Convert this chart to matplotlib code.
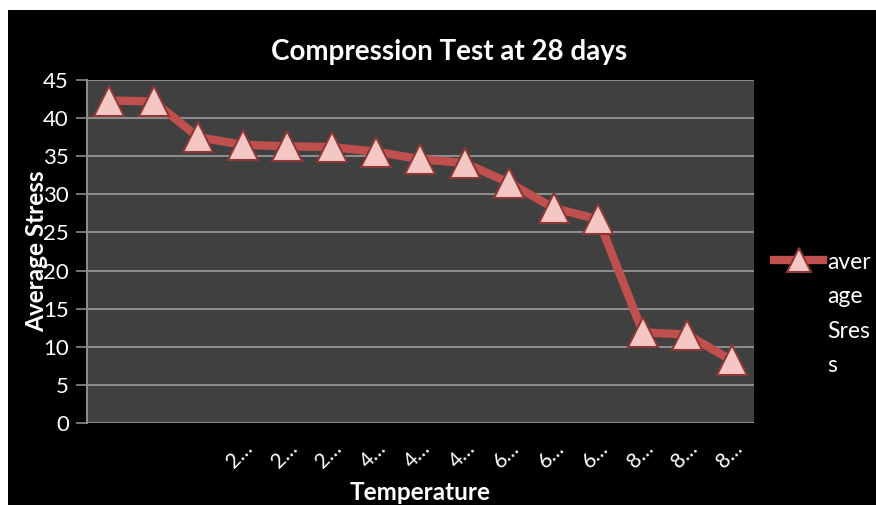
import matplotlib.pyplot as plt
from matplotlib.patches import Rectangle

# data
kategorieen = list(range(1, 16))
tick_labels = ["", "", "", "2…", "2…", "2…", "4…", "4…", "4…",
               "6…", "6…", "6…", "8…", "8…", "8…"]
gemiddelde_spanning = [42.3, 42.2, 37.5, 36.5, 36.3, 36.2, 35.6, 34.6, 34.1,
                       31.5, 28.2, 26.7, 11.9, 11.6, 8.2]
y_ticks = [0, 5, 10, 15, 20, 25, 30, 35, 40, 45]

plt.rcParams['font.family'] = ['Lato', 'DejaVu Sans']

fig = plt.figure(figsize=(8.76, 5.05), dpi=100)
fig.patch.set_facecolor('white')
# black chart area with a thin white strip at top and left
fig.patches.append(Rectangle((8 / 876, 0), 1, 495 / 505, transform=fig.transFigure,
                             facecolor='black', edgecolor='none', zorder=-5))

ax = fig.add_axes([87 / 876, 82 / 505, 667 / 876, 343 / 505])
ax.set_facecolor('#404040')

ax.plot(kategorieen, gemiddelde_spanning, color='#c0504d', linewidth=6,
        marker='^', markersize=22, markerfacecolor='#f4c6c4',
        markeredgecolor='#8c3836', markeredgewidth=1.5,
        label='aver\nage\nSres\ns', zorder=3)

ax.set_xlim(0.5, 15.5)
ax.set_ylim(0, 45)
ax.set_yticks(y_ticks)
ax.set_xticks(kategorieen)
ax.set_xticklabels(tick_labels, rotation=45, ha='right', rotation_mode='anchor')
ax.tick_params(axis='x', length=0, pad=11, labelsize=15, labelcolor='white')
ax.tick_params(axis='y', length=8, width=1.2, color='#8c8c8c', pad=5,
               labelsize=16, labelcolor='white')
ax.grid(axis='y', color='#8c8c8c', linewidth=1.5)
ax.set_axisbelow(True)
for kant in ['top', 'right', 'bottom']:
	ax.spines[kant].set_visible(False)
ax.spines['left'].set_color('#8c8c8c')
ax.spines['left'].set_linewidth(1.5)

ax.set_ylabel('Average Stress', fontsize=17.5, fontweight='bold', color='white')
ax.yaxis.set_label_coords(-0.059, 0.5)
ax.set_xlabel('Temperature', fontsize=17.5, fontweight='bold', color='white')
ax.xaxis.set_label_coords(0.499, -0.17)

fig.text(449 / 876, 1 - 52 / 505, 'Compression Test at 28 days', fontsize=20,
         fontweight='bold', color='white', ha='center', va='center')

leg = ax.legend(loc='upper left', bbox_to_anchor=(1.0165, 0.525), frameon=False,
                fontsize=16.5, labelcolor='white', handlelength=2.15, handletextpad=0.15,
                markerscale=0.8, borderaxespad=0)
for t in leg.get_texts():
	t.set_linespacing(1.78)
# handle at the first line of the label, as in the original
for kolom in leg._legend_handle_box.get_children():
	for rij in kolom.get_children():
		rij.align = 'top'

fig.savefig('out.png', dpi=100, facecolor=fig.get_facecolor())
